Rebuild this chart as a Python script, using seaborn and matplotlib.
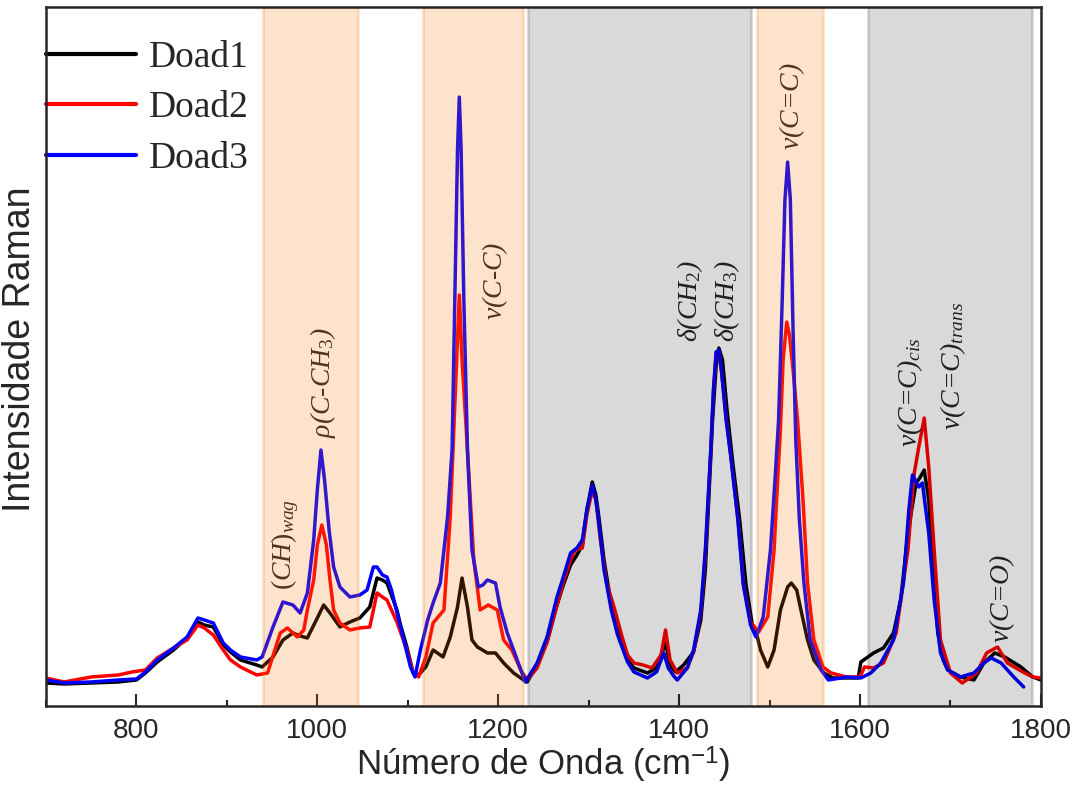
import matplotlib
matplotlib.use("Agg")
import matplotlib.pyplot as plt
import pandas as pd
import seaborn as sns

# ==============================
# DATA (arbitrary units)
# ==============================
wn_doad1 = [700, 720, 750, 780, 800, 810, 823, 841, 856, 868,
            875, 885, 896, 904, 915, 933, 939, 951, 962, 973,
            981, 989, 1000, 1007, 1014, 1025, 1036, 1047, 1058, 1066,
            1072, 1077, 1088, 1092, 1099, 1106, 1112, 1120, 1128, 1139,
            1147, 1155, 1160, 1166, 1171, 1177, 1188, 1197, 1206, 1217,
            1228, 1232, 1243, 1254, 1265, 1272, 1280, 1287, 1293, 1298,
            1304, 1308, 1311, 1317, 1325, 1332, 1343, 1350, 1365, 1375,
            1385, 1390, 1396, 1405, 1416, 1424, 1429, 1437, 1441, 1444,
            1448, 1453, 1459, 1467, 1474, 1481, 1486, 1490, 1498, 1505,
            1512, 1520, 1524, 1530, 1534, 1542, 1549, 1560, 1570, 1585,
            1598, 1601, 1615, 1626, 1637, 1645, 1653, 1662, 1666, 1671,
            1676, 1681, 1686, 1692, 1697, 1711, 1726, 1737, 1749, 1760,
            1778, 1791, 1800]
int_doad1 = [23, 22, 23, 24, 26, 33, 44, 56, 68, 84,
             81, 79, 61, 54, 46, 41, 39, 49, 66, 73,
             70, 68, 88, 101, 93, 79, 84, 88, 99, 128,
             126, 123, 96, 81, 59, 33, 31, 39, 56, 49,
             69, 99, 128, 99, 66, 59, 53, 53, 43, 33,
             26, 24, 41, 64, 101, 121, 141, 151, 161, 196,
             224, 211, 191, 146, 101, 76, 46, 38, 33, 38,
             63, 41, 34, 41, 54, 86, 136, 286, 341, 358,
             346, 296, 246, 186, 121, 81, 71, 56, 39, 56,
             96, 119, 123, 116, 99, 66, 46, 33, 28, 28,
             28, 44, 53, 58, 73, 106, 173, 223, 228, 236,
             206, 136, 73, 46, 36, 29, 26, 43, 53, 49,
             39, 29, 26]

wn_doad2 = [700, 720, 750, 780, 795, 810, 823, 841, 856, 868,
            875, 885, 896, 904, 915, 933, 945, 959, 967, 978,
            985, 989, 996, 1000, 1005, 1010, 1014, 1018, 1025, 1036,
            1047, 1058, 1066, 1072, 1077, 1088, 1099, 1106, 1112, 1120,
            1128, 1140, 1147, 1150, 1154, 1157, 1160, 1166, 1173, 1180,
            1189, 1199, 1206, 1215, 1225, 1232, 1243, 1254, 1265, 1272,
            1280, 1285, 1293, 1298, 1304, 1308, 1313, 1320, 1328, 1337,
            1343, 1350, 1360, 1370, 1380, 1385, 1390, 1398, 1409, 1416,
            1424, 1429, 1435, 1438, 1441, 1444, 1447, 1452, 1457, 1465,
            1471, 1479, 1488, 1498, 1505, 1509, 1512, 1515, 1519, 1522,
            1526, 1531, 1537, 1542, 1549, 1559, 1568, 1585, 1600, 1605,
            1615, 1626, 1640, 1653, 1660, 1665, 1671, 1676, 1682, 1689,
            1700, 1713, 1729, 1740, 1752, 1763, 1780, 1791, 1800]
int_doad2 = [28, 24, 29, 31, 34, 36, 48, 58, 66, 81,
             78, 71, 56, 46, 39, 31, 33, 73, 78, 69,
             76, 96, 126, 161, 181, 161, 126, 96, 83, 76,
             78, 79, 113, 109, 106, 84, 56, 33, 29, 49,
             83, 96, 189, 256, 346, 411, 346, 256, 146, 96,
             101, 96, 66, 56, 36, 26, 38, 64, 101, 124,
             146, 156, 158, 191, 216, 206, 166, 123, 99, 69,
             51, 43, 41, 38, 51, 76, 46, 33, 38, 54,
             94, 151, 254, 316, 354, 354, 334, 288, 251, 188,
             123, 84, 74, 89, 156, 226, 276, 346, 384, 371,
             336, 286, 206, 123, 66, 39, 33, 29, 29, 39,
             38, 43, 73, 156, 233, 259, 288, 239, 156, 66,
             33, 23, 33, 53, 59, 43, 34, 29, 28]

wn_doad3 = [700, 720, 750, 780, 800, 810, 823, 841, 856, 868,
            875, 885, 896, 904, 915, 933, 939, 951, 962, 973,
            981, 989, 996, 1000, 1004, 1008, 1013, 1018, 1025, 1036,
            1047, 1055, 1062, 1066, 1072, 1077, 1082, 1092, 1103, 1108,
            1114, 1122, 1128, 1136, 1144, 1149, 1153, 1155, 1157, 1159,
            1162, 1166, 1171, 1178, 1183, 1188, 1197, 1202, 1210, 1217,
            1225, 1230, 1243, 1254, 1265, 1272, 1280, 1287, 1293, 1298,
            1304, 1308, 1311, 1317, 1325, 1332, 1343, 1350, 1365, 1375,
            1383, 1388, 1394, 1398, 1409, 1416, 1424, 1429, 1435, 1438,
            1441, 1444, 1447, 1452, 1457, 1465, 1471, 1479, 1485, 1493,
            1501, 1506, 1510, 1514, 1517, 1520, 1523, 1526, 1529, 1533,
            1538, 1545, 1557, 1565, 1586, 1601, 1612, 1623, 1637, 1648,
            1654, 1658, 1665, 1669, 1676, 1682, 1689, 1697, 1711, 1726,
            1737, 1745, 1756, 1770, 1781]
int_doad3 = [26, 23, 24, 26, 27, 34, 46, 58, 69, 88,
             86, 83, 63, 56, 49, 46, 49, 79, 104, 101,
             93, 113, 166, 216, 256, 226, 176, 139, 119, 109,
             111, 116, 139, 139, 131, 129, 116, 79, 39, 29,
             56, 86, 103, 123, 189, 256, 456, 556, 609, 556,
             406, 256, 156, 119, 121, 126, 123, 99, 73, 56,
             36, 24, 43, 69, 109, 129, 153, 158, 166, 196,
             221, 206, 186, 136, 96, 71, 44, 34, 28, 34,
             53, 38, 30, 26, 38, 56, 96, 156, 256, 316,
             354, 356, 334, 286, 251, 186, 121, 81, 69, 89,
             156, 226, 286, 406, 506, 544, 506, 376, 266, 186,
             123, 66, 36, 26, 29, 28, 33, 43, 66, 123,
             196, 231, 219, 223, 173, 106, 53, 36, 29, 33,
             43, 48, 43, 29, 19]

samples = ["Doad1", "Doad2", "Doad3"]
colors = ["#000000", "#ff0000", "#0000ff"]

# band assignments (shaded regions)
orange_bands = [(940, 1045), (1117, 1227), (1486, 1559)]
gray_bands = [(1233, 1480), (1609, 1790)]

ann_labels = [r"$(CH)_{wag}$", r"$\rho$(C-CH$_3$)", r"$\nu$(C-C)",
              r"$\delta$(CH$_2$)", r"$\delta$(CH$_3$)", r"$\nu$(C=C)",
              r"$\nu$(C=C)$_{cis}$", r"$\nu$(C=C)$_{trans}$", r"$\nu$(C=O)"]
ann_x = [964, 1006, 1197, 1412, 1453, 1525, 1655, 1703, 1757]
ann_y = [116, 268, 386, 364, 364, 556, 259, 276, 63]

# ==============================
# LONG FORMAT
# ==============================
frames = []
for name, wn, inten in zip(samples, [wn_doad1, wn_doad2, wn_doad3],
                           [int_doad1, int_doad2, int_doad3]):
    frames.append(pd.DataFrame({"wn": wn, "I": inten, "amostra": name}))
df = pd.concat(frames, ignore_index=True)

# ==============================
# PLOT
# ==============================
sns.set_style("ticks")
plt.rcParams["font.family"] = ["Liberation Sans", "DejaVu Sans"]
plt.rcParams["mathtext.fontset"] = "custom"
plt.rcParams["mathtext.rm"] = "Liberation Serif"
plt.rcParams["mathtext.it"] = "Liberation Serif:italic"

fig = plt.figure(figsize=(10.82, 7.91), dpi=100)
ax = fig.add_axes([0.0425, 0.1075, 0.9195, 0.8835])

sns.lineplot(data=df, x="wn", y="I", hue="amostra", palette=colors,
             estimator=None, sort=True, linewidth=2.5, ax=ax, zorder=2)

for lo, hi in orange_bands:
    ax.axvspan(lo, hi, facecolor=(0.96, 0.45, 0.0), edgecolor=(0.96, 0.45, 0.0),
               alpha=0.2, linewidth=2, zorder=4)
for lo, hi in gray_bands:
    ax.axvspan(lo, hi, facecolor="black", edgecolor="black",
               alpha=0.15, linewidth=2, zorder=4)

for s, x, y in zip(ann_labels, ann_x, ann_y):
    ax.text(x, y, s, rotation=90, ha="center", va="bottom", fontsize=20,
            family="Liberation Serif", style="italic", zorder=3)

ax.set_xlim(700, 1800)
ax.set_ylim(0, 699)
ax.set_xticks(range(800, 1801, 200))
ax.set_xticks(range(700, 1801, 100), minor=True)
ax.set_yticks([])
ax.tick_params(axis="x", which="major", direction="in", length=9, width=1.5,
               labelsize=20, pad=9, top=False)
ax.tick_params(axis="x", which="minor", direction="in", length=4.5, width=1.5,
               top=False)
for sp in ax.spines.values():
    sp.set_linewidth(1.8)
    sp.set_visible(True)
    sp.set_zorder(6)

ax.set_xlabel(r"Número de Onda (cm$^{\mathregular{-1}}$)", fontsize=25, labelpad=0)
ax.set_ylabel("Intensidade Raman", fontsize=27)
ax.yaxis.set_label_coords(-0.008, 0.51)

handles, labels = ax.get_legend_handles_labels()
for h in handles:
    h.set_linewidth(3)
ax.legend(handles, labels, loc="upper left", bbox_to_anchor=(0.0, 0.952),
          frameon=False, borderaxespad=0, borderpad=0, handlelength=2.4,
          handletextpad=0.35, labelspacing=0.42,
          prop={"family": "Liberation Serif", "size": 27})

fig.savefig("out.png", dpi=100)
